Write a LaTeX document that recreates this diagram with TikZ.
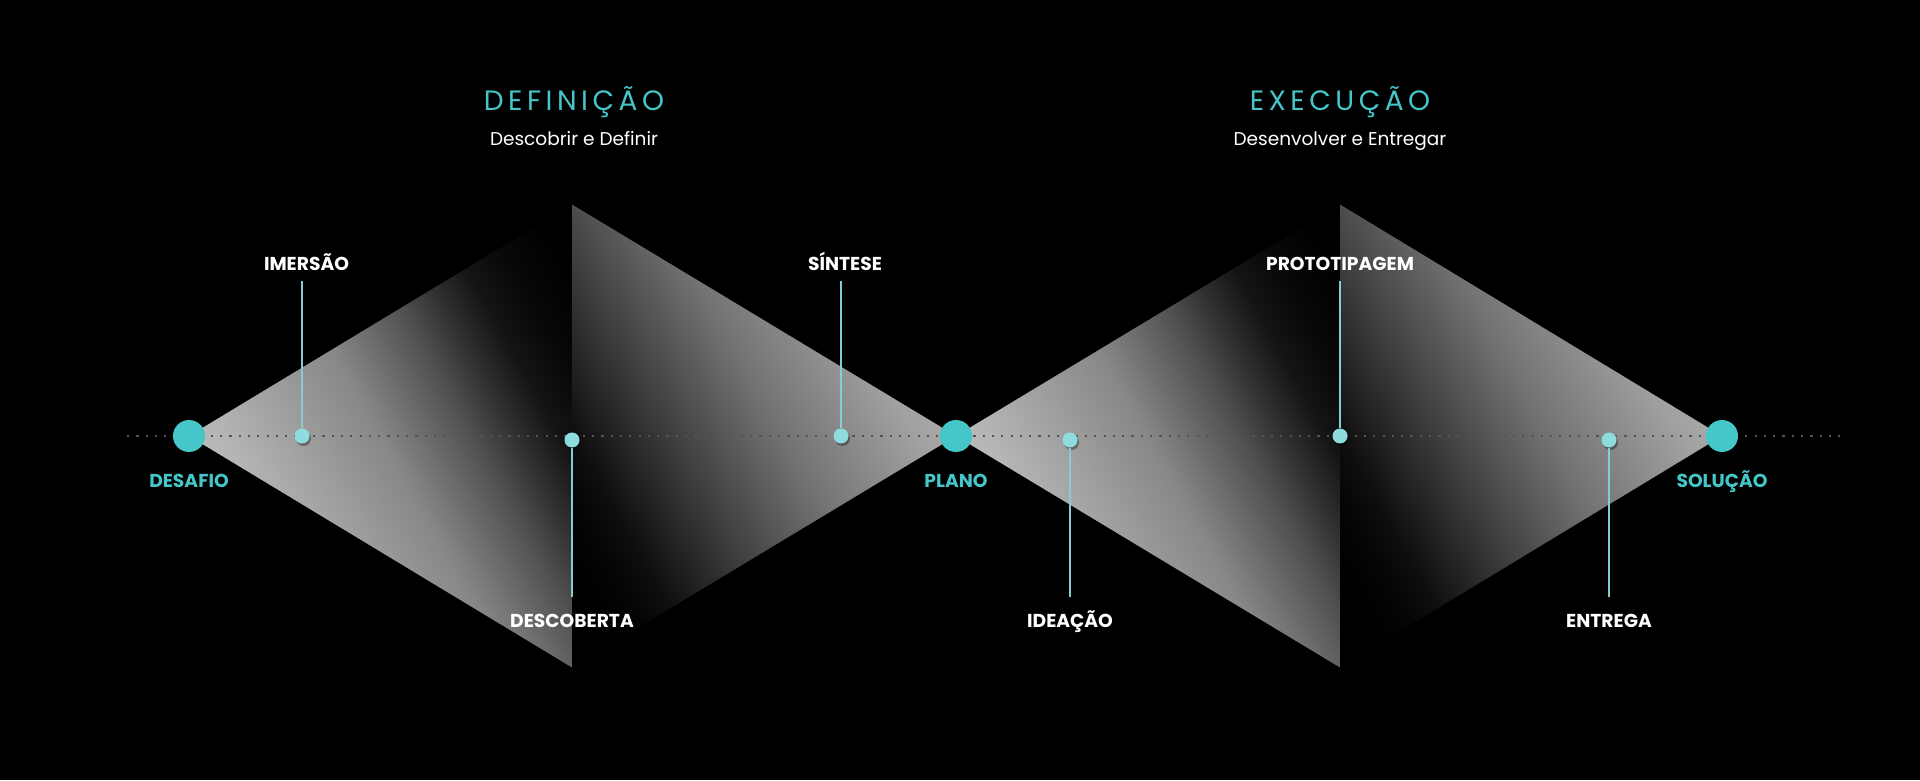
\documentclass[tikz,border=0pt]{standalone}
\usepackage{fontspec}
\setmainfont{Poppins}
\newfontfamily\titlefont{Poppins}[LetterSpace=16]
\usetikzlibrary{positioning,shadows}
\definecolor{hubteal}{HTML}{45C6C9}
\definecolor{dotcyan}{HTML}{8FDCDF}
\definecolor{stemcyan}{HTML}{84CDD0}
\pgfdeclarehorizontalshading{fadeout}{100bp}{color(0bp)=(white!78!black); color(28bp)=(white!75!black); color(33bp)=(white!71!black); color(50bp)=(white!53!black); color(55bp)=(white!42!black); color(60bp)=(white!31!black); color(64bp)=(white!20!black); color(69bp)=(white!8!black); color(74bp)=(white!3!black); color(80bp)=(black); color(100bp)=(black)}
\pgfdeclarehorizontalshading{fadein}{100bp}{color(0bp)=(black); color(22bp)=(black); color(26bp)=(white!2!black); color(30bp)=(white!6!black); color(41bp)=(white!26!black); color(52bp)=(white!45!black); color(66bp)=(white!63!black); color(71bp)=(white!67!black); color(100bp)=(white!70!black)}

\begin{document}
\begin{tikzpicture}[x=1pt, y=1pt,
  hub/.style={circle, fill=hubteal, minimum size=32pt, inner sep=0pt},
  stepdot/.style={circle, fill=dotcyan, minimum size=15pt, inner sep=0pt, drop shadow={shadow xshift=1.5pt, shadow yshift=-2.5pt, opacity=.35, fill=black}},
  hublbl/.style={font=\bfseries\fontsize{18.7}{18.7}\selectfont, text=hubteal, inner sep=0pt, text height=13pt, text depth=0pt},
  steplbl/.style={hublbl, text=white},
  stemline/.style={stemcyan, line width=1.6pt},
  midline/.style={white!33!black, line width=2.2pt, dash pattern=on 2.2pt off 7.1pt},
  phase/.style={font=\titlefont\fontsize{28}{28}\selectfont, text=hubteal, anchor=base},
  phasesub/.style={font=\fontsize{18.5}{18.5}\selectfont, text=white, anchor=base}
]
\fill[black] (0,0) rectangle (1920,780);
\useasboundingbox (0,0) rectangle (1920,780);
\shade[shading=fadeout, shading angle=29] (189,344) -- (572,575.5) -- (572,112.5) -- cycle;
\shade[shading=fadein, shading angle=29] (572,575.5) -- (956,344) -- (572,112.5) -- cycle;
\shade[shading=fadeout, shading angle=29] (956,344) -- (1340,575.5) -- (1340,112.5) -- cycle;
\shade[shading=fadein, shading angle=29] (1340,575.5) -- (1722,344) -- (1340,112.5) -- cycle;
\coordinate (axl) at (127,344);
\coordinate (axr) at (1846,344);
\draw[midline] (axl) -- (axr);
\node[phase] (def) at (574,669) {DEFINIÇÃO};
\node[phasesub] (defsub) at (574,634) {Descobrir e Definir};
\node[phase] (exe) at (1340,669) {EXECUÇÃO};
\node[phasesub] (exesub) at (1340,634) {Desenvolver e Entregar};
\node[hub] (desafio) at (189,344) {};
\node[hub] (plano) at (956,344) {};
\node[hub] (solucao) at (1722,344) {};
\node[hublbl, below=22pt of desafio] (desafioL) {DESAFIO};
\node[hublbl, below=22pt of plano] (planoL) {PLANO};
\node[hublbl, below=22pt of solucao] (solucaoL) {SOLUÇÃO};
\node[stepdot] (imersao) at (302,344) {};
\node[stepdot] (descoberta) at (572,340) {};
\node[stepdot] (sintese) at (841,344) {};
\node[stepdot] (ideacao) at (1070,340) {};
\node[stepdot] (prototipagem) at (1340,344) {};
\node[stepdot] (entrega) at (1609,340) {};
\node[steplbl, above=158pt of imersao, xshift=4.5pt] (imersaoL) {IMERSÃO};
\node[steplbl, above=158pt of sintese, xshift=4pt] (sinteseL) {SÍNTESE};
\node[steplbl, above=158pt of prototipagem] (prototipagemL) {PROTOTIPAGEM};
\node[steplbl, below=167pt of descoberta] (descobertaL) {DESCOBERTA};
\node[steplbl, below=167pt of ideacao] (ideacaoL) {IDEAÇÃO};
\node[steplbl, below=167pt of entrega] (entregaL) {ENTREGA};
\draw[stemline, shorten >=11pt] (imersao) -- (imersao |- imersaoL.south);
\draw[stemline, shorten >=11pt] (sintese) -- (sintese |- sinteseL.south);
\draw[stemline, shorten >=11pt] (prototipagem) -- (prototipagemL);
\draw[stemline, shorten >=18pt] (descoberta) -- (descobertaL);
\draw[stemline, shorten >=18pt] (ideacao) -- (ideacaoL);
\draw[stemline, shorten >=18pt] (entrega) -- (entregaL);
\end{tikzpicture}
\end{document}
